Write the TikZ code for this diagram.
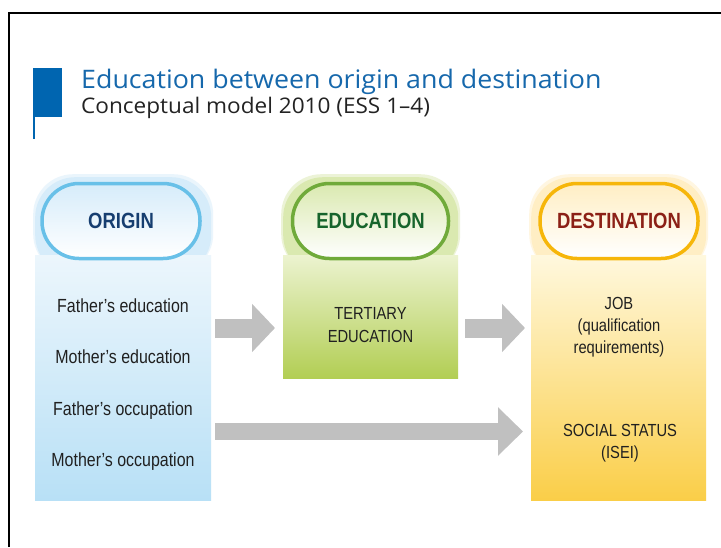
\documentclass[tikz,border=0pt]{standalone}
\usepackage{fontspec}
\setmainfont{Liberation Sans}
\newfontfamily\titlefont[FakeStretch=1.05]{Open Sans}
\newfontfamily\condf[FakeStretch=0.84]{Liberation Sans}
\usetikzlibrary{arrows.meta}
\definecolor{barblue}{RGB}{0,101,176}
\definecolor{titleblue}{RGB}{22,104,172}
\definecolor{subgray}{RGB}{35,35,35}
\definecolor{txtgray}{RGB}{32,32,32}
\definecolor{arrowgray}{RGB}{192,192,192}
\definecolor{oline}{RGB}{104,192,232}
\definecolor{otop}{RGB}{236,246,252}
\definecolor{obot}{RGB}{184,224,246}
\definecolor{ohalo}{RGB}{214,236,250}
\definecolor{otext}{RGB}{22,62,112}
\definecolor{eline}{RGB}{112,170,58}
\definecolor{etop}{RGB}{236,243,208}
\definecolor{ebot}{RGB}{178,206,84}
\definecolor{ehalo}{RGB}{218,233,176}
\definecolor{etext}{RGB}{22,100,44}
\definecolor{dline}{RGB}{246,182,10}
\definecolor{dtop}{RGB}{255,248,222}
\definecolor{dbot}{RGB}{250,206,72}
\definecolor{dhalo}{RGB}{255,238,196}
\definecolor{dtext}{RGB}{140,32,22}
\tikzset{
  colbox/.style={rectangle, draw=none, anchor=north west, inner sep=0pt},
  halobox/.style={rectangle, draw=none, rounded corners=40pt, minimum width=176pt, minimum height=98pt, anchor=north west, inner sep=0pt},
  pill/.style={rectangle, rounded corners=37pt, minimum width=158pt, minimum height=75pt, line width=3.5pt, inner sep=0pt,
    font=\condf\bfseries\fontsize{22}{25}\selectfont},
  bodytxt/.style={anchor=base, inner sep=0pt, text=txtgray, font=\condf\fontsize{19}{22}\selectfont},
  captxt/.style={anchor=base, inner sep=0pt, text=txtgray, font=\condf\fontsize{17.5}{21}\selectfont},
  blockarrow/.style={draw=arrowgray, line width=19pt, -{Triangle[length=23pt,width=47pt]}},
}
\begin{document}
\begin{tikzpicture}[x=1pt,y=-1pt]
\useasboundingbox (0,0) rectangle (721,547);
\fill[white] (0,0) rectangle (721,547);
% frame
\draw[line width=2pt] (9,547) -- (9,13) -- (721,13);
% title block
\fill[barblue] (33,68) rectangle (62,117);
\draw[barblue, line width=1.6pt] (33.8,116) -- (33.8,139);
\node[anchor=base west, inner sep=0pt, text=titleblue, font=\titlefont\fontsize{25.5}{29}\selectfont] (title) at (81,88) {Education between origin and destination};
\node[anchor=base west, inner sep=0pt, text=subgray, font=\titlefont\fontsize{21.5}{25}\selectfont] (subtitle) at (81,113) {Conceptual model 2010 (ESS 1–4)};

% ORIGIN column
\node[halobox, minimum width=180pt, minimum height=100pt, fill=ohalo, opacity=0.5] (ohalo2) at (33,174) {};
\node[halobox, fill=ohalo] (ohalo) at (35,177) {};
\node[colbox, minimum width=176pt, minimum height=245pt, top color=otop, bottom color=obot] (ocol) at (35,255) {};
\node[pill, draw=oline, top color=ohalo, bottom color=white, text=otext] (origin) at (121,221) {ORIGIN};
\node[bodytxt] (fed) at (123,312) {Father’s education};
\node[bodytxt] (med) at (123,363.5) {Mother’s education};
\node[bodytxt] (foc) at (123,415) {Father’s occupation};
\node[bodytxt] (moc) at (123,466.5) {Mother’s occupation};

% EDUCATION column
\node[halobox, minimum width=179pt, minimum height=100pt, fill=ehalo, opacity=0.5] (ehalo2) at (281,174) {};
\node[halobox, minimum width=175pt, fill=ehalo] (ehalo) at (283,177) {};
\node[colbox, minimum width=175pt, minimum height=123pt, top color=etop, bottom color=ebot] (ecol) at (283,255) {};
\node[pill, minimum width=156pt, draw=eline, top color=ehalo, bottom color=white, text=etext] (education) at (370.5,221) {EDUCATION};
\node[captxt] (tert1) at (370.5,319) {TERTIARY};
\node[captxt] (tert2) at (370.5,342) {EDUCATION};

% DESTINATION column
\node[halobox, minimum width=179pt, minimum height=100pt, fill=dhalo, opacity=0.5] (dhalo2) at (529,174) {};
\node[halobox, minimum width=175pt, fill=dhalo] (dhalo) at (531,177) {};
\node[colbox, minimum width=175pt, minimum height=245pt, top color=dtop, bottom color=dbot] (dcol) at (531,255) {};
\node[pill, draw=dline, top color=dhalo, bottom color=white, text=dtext] (destination) at (619,221) {DESTINATION};
\node[captxt] (job) at (619,309) {JOB};
\node[bodytxt, font=\condf\fontsize{17.5}{21}\selectfont] (qual) at (619,331) {(qualification};
\node[bodytxt, font=\condf\fontsize{17.5}{21}\selectfont] (req) at (619,353) {requirements)};
\node[captxt] (soc) at (620,436) {SOCIAL STATUS};
\node[captxt] (isei) at (620,458) {(ISEI)};

% arrows
\draw[blockarrow] ([xshift=4pt]ocol.east |- 0,328) -- ([xshift=-8pt]ecol.west |- 0,328);
\draw[blockarrow] ([xshift=7pt]ecol.east |- 0,328) -- ([xshift=-6pt]dcol.west |- 0,328);
\draw[blockarrow, line width=17pt, -{Triangle[length=25pt,width=47pt]}] ([xshift=4pt]ocol.east |- 0,431.5) -- ([xshift=-8pt]dcol.west |- 0,431.5);
\end{tikzpicture}
\end{document}
